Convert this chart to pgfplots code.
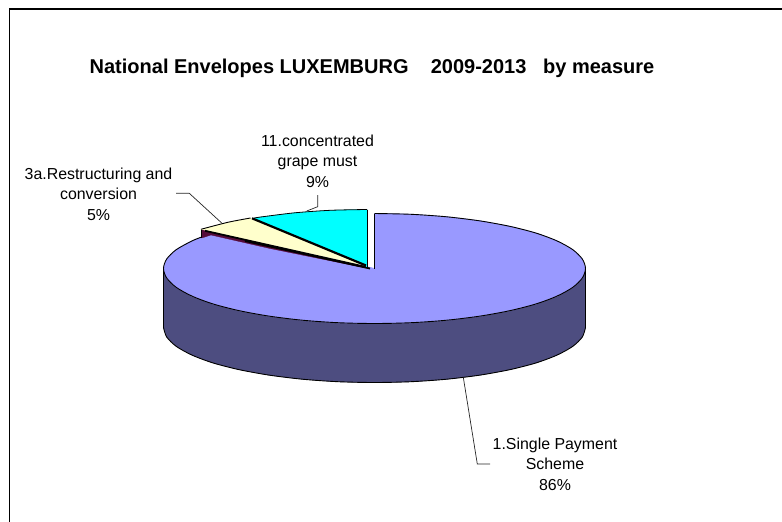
\documentclass[border=0pt]{standalone}
\usepackage{fontspec}
\setmainfont{Liberation Sans}
\usepackage{pgfplots}
\pgfplotsset{compat=1.18}
\definecolor{blueTop}{HTML}{9999FF}
\definecolor{blueWall}{HTML}{4D4D80}
\definecolor{yel}{HTML}{FFFFCC}
\definecolor{cya}{HTML}{00FFFF}
\definecolor{sliver}{HTML}{550A3A}
\begin{document}
\begin{tikzpicture}
\begin{axis}[
  scale only axis, width=782pt, height=522pt,
  xmin=0, xmax=782, ymin=0, ymax=522, y dir=reverse,
  axis line style={draw=none}, xtick=\empty, ytick=\empty, clip=true, every axis plot/.append style={no markers}]
% frame
\addplot[black, line width=1.2pt] coordinates {(9.5,522) (9.5,9) (782,9)};
% wall of slice 1 (86%)
\addplot[blueWall, fill=blueWall, line width=0.5pt] coordinates {
 (585.5,268.5) (582.3,278) (572.8,287.3) (557.2,296) (536.1,303.9) (510.1,310.6) (480,316.1) (446.7,320.2) (411.1,322.7) (374.5,323.5) (337.9,322.7) (302.3,320.2) (269,316.1) (238.9,310.6) (212.9,303.9) (191.8,296) (176.2,287.3) (166.7,278) (163.5,268.5)
 (163.5,327.5) (166.7,337) (176.2,346.3) (191.8,355) (212.9,362.9) (238.9,369.6) (269,375.1) (302.3,379.2) (337.9,381.7) (374.5,382.5) (411.1,381.7) (446.7,379.2) (480,375.1) (510.1,369.6) (536.1,362.9) (557.2,355) (572.8,346.3) (582.3,337) (585.5,327.5) (585.5,268.5)};
\addplot[black, line width=0.9pt, smooth] coordinates {
 (163.5,327.5) (166.7,337) (176.2,346.3) (191.8,355) (212.9,362.9) (238.9,369.6) (269,375.1) (302.3,379.2) (337.9,381.7) (374.5,382.5) (411.1,381.7) (446.7,379.2) (480,375.1) (510.1,369.6) (536.1,362.9) (557.2,355) (572.8,346.3) (582.3,337) (585.5,327.5)};
\addplot[black, line width=0.9pt] coordinates {(163.5,268.5) (163.5,327.5)};
\addplot[black, line width=0.9pt] coordinates {(585.5,268.5) (585.5,327.5)};
% top of slice 1
\addplot[blueTop, fill=blueTop, line width=0.8pt] coordinates {
 (374.5,268.5) (374.5,213.5) (411.1,214.3) (446.7,216.8) (480,220.9) (510.1,226.4) (536.1,233.1) (557.2,241) (572.8,249.7) (582.3,259) (585.5,268.5) (582.3,278) (572.8,287.3) (557.2,296) (536.1,303.9) (510.1,310.6) (480,316.1) (446.7,320.2) (411.1,322.7) (374.5,323.5) (337.9,322.7) (302.3,320.2) (269,316.1) (238.9,310.6) (212.9,303.9) (191.8,296) (176.2,287.3) (166.7,278) (163.5,268.5) (166.7,259) (176.2,249.7) (191.8,241) (211.9,233.4) (374.5,268.5)};
\addplot[black, line width=0.9pt, smooth] coordinates {
 (374.5,213.5) (411.1,214.3) (446.7,216.8) (480,220.9) (510.1,226.4) (536.1,233.1) (557.2,241) (572.8,249.7) (582.3,259) (585.5,268.5) (582.3,278) (572.8,287.3) (557.2,296) (536.1,303.9) (510.1,310.6) (480,316.1) (446.7,320.2) (411.1,322.7) (374.5,323.5) (337.9,322.7) (302.3,320.2) (269,316.1) (238.9,310.6) (212.9,303.9) (191.8,296) (176.2,287.3) (166.7,278) (163.5,268.5) (166.7,259) (176.2,249.7) (191.8,241) (201.7,237)};
\addplot[black, line width=0.9pt] coordinates {(374.5,213.5) (374.5,268.5)};
% wall of slice 2
\addplot[sliver, fill=sliver, line width=0.3pt] coordinates {(201.7,229) (201.7,238) (211,235) (270,248.5) (366,268) (201.7,229)};
\addplot[black, line width=0.9pt] coordinates {(201.7,229) (201.7,238)};
% top of slice 2 (5%)
\addplot[yel, fill=yel, line width=0.3pt] coordinates {(364.5,265.5) (201,229.3) (227.9,222.3) (250.5,218) (364.5,265.5)};
\addplot[black, line width=0.9pt, smooth] coordinates {(201,229.3) (227.9,222.3) (250.5,218)};
\addplot[black, line width=1.8pt] coordinates {(205,230.8) (366,267)};
\addplot[black, line width=1.8pt] coordinates {(245,241) (370,268.5)};
% top of slice 3 (9%)
\addplot[cya, fill=cya, line width=0.3pt] coordinates {(367,266.5) (367,209.5) (330.4,210.3) (294.8,212.8) (261.5,216.9) (254,218.1) (367,266.5)};
\addplot[black, line width=0.8pt, smooth] coordinates {(367,209.5) (330.4,210.3) (294.8,212.8) (261.5,216.9) (254,218.1)};
\addplot[black, line width=0.6pt] coordinates {(367,209.5) (367,266.5)};
\addplot[black, line width=2.2pt] coordinates {(252,218.3) (366,265.5)};
% leaders
\addplot[black!85, line width=0.7pt] coordinates {(221.7,223) (189.3,193.3) (176,193.3)};
\addplot[black!85, line width=0.7pt] coordinates {(306.7,211) (317.7,206.7) (317.7,195)};
\addplot[black!85, line width=0.7pt] coordinates {(463.3,377.3) (477.3,464) (490,464)};
% texts
\node[font=\fontsize{20}{24}\selectfont\bfseries] at (axis cs:372,68) {National Envelopes LUXEMBURG\ \ \ \ 2009-2013\ \ \ by measure};
\node[font=\fontsize{15.9}{20.5}\selectfont, align=center] at (axis cs:317.5,161) {11.concentrated\\grape must\\9\%};
\node[font=\fontsize{15.9}{20.5}\selectfont, align=center] at (axis cs:98.5,194) {3a.Restructuring and\\conversion\\5\%};
\node[font=\fontsize{15.9}{20.5}\selectfont, align=center] at (axis cs:555,464) {1.Single Payment\\Scheme\\86\%};
\end{axis}
\path (0,0) rectangle (782pt,522pt);
\end{tikzpicture}
\end{document}
